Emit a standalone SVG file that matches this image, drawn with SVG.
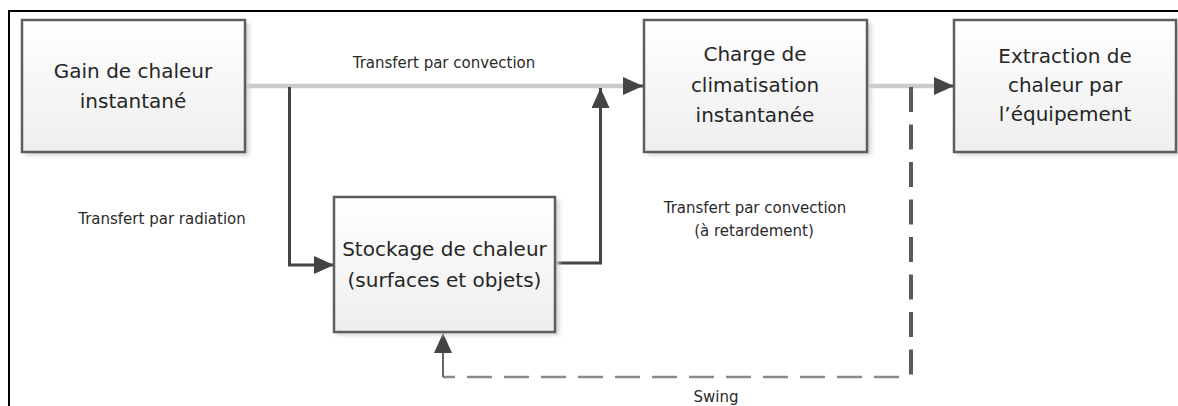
<svg xmlns="http://www.w3.org/2000/svg" width="1178" height="406" viewBox="0 0 1178 406">
  <defs>
    <linearGradient id="boxFill" x1="0" y1="0" x2="0" y2="1">
      <stop offset="0" stop-color="#ffffff"/>
      <stop offset="1" stop-color="#eeeeee"/>
    </linearGradient>
    <filter id="shadow" x="-10%" y="-10%" width="130%" height="130%">
      <feGaussianBlur stdDeviation="2"/>
    </filter>
    <marker id="arrow" viewBox="0 0 20 18" refX="20" refY="9" markerWidth="20" markerHeight="18" markerUnits="userSpaceOnUse" orient="auto">
      <path d="M0,0 L20,9 L0,18 Z" fill="#444444"/>
    </marker>
  </defs>
  <style>
    .box { fill: url(#boxFill); stroke: #5e5e5e; stroke-width: 2.5; }
    .shadow { fill: #d0d0d0; filter: url(#shadow); }
    .boxtext { font-family: "DejaVu Sans", sans-serif; font-size: 20px; fill: #262626; text-anchor: middle; }
    .label { font-family: "DejaVu Sans", sans-serif; font-size: 15px; fill: #2a2a2a; text-anchor: middle; }
    .light { fill: none; stroke: #cbcbcb; stroke-width: 4.5; }
    .dark { fill: none; stroke: #444444; stroke-width: 3; }
    .dashv { fill: none; stroke: #5a5a5a; stroke-width: 4; stroke-dasharray: 25 12.5; }
    .dashh { fill: none; stroke: #8a8a8a; stroke-width: 2.5; stroke-dasharray: 25 12; }
  </style>

  <rect width="1178" height="406" fill="#ffffff"/>
  <g id="frame">
    <path d="M9,406 L9,11 L1178,11" fill="none" stroke="#000000" stroke-width="2"/>
  </g>

  <g id="connectors">
    <path class="light" d="M245,86 L624,86"/>
    <path d="M624,86 L643,86" stroke="#444" stroke-width="3" marker-end="url(#arrow)"/>
    <path class="light" d="M867,86 L936,86"/>
    <path d="M936,86 L954,86" stroke="#444" stroke-width="3" marker-end="url(#arrow)"/>
    <path class="dark" d="M289.5,87 L289.5,265 L334,265" marker-end="url(#arrow)"/>
    <path class="dark" d="M555,263 L600.5,263 L600.5,88" marker-end="url(#arrow)"/>
    <path class="dashv" d="M911,87 L911,376"/>
    <path class="dashh" d="M899,377 L443,377"/>
    <path d="M443,377 L443,333" fill="none" stroke="#666" stroke-width="2" marker-end="url(#arrow)"/>
  </g>

  <g id="gain">
    <rect class="shadow" x="25" y="23" width="224" height="132"/>
    <rect class="box" x="22" y="20" width="223" height="132"/>
    <text class="boxtext" x="133" y="78">Gain de chaleur</text>
    <text class="boxtext" x="133" y="108">instantané</text>
  </g>

  <g id="charge">
    <rect class="shadow" x="647" y="23" width="224" height="132"/>
    <rect class="box" x="644" y="20" width="223" height="132"/>
    <text class="boxtext" x="755" y="61">Charge de</text>
    <text class="boxtext" x="755" y="92">climatisation</text>
    <text class="boxtext" x="755" y="122">instantanée</text>
  </g>

  <g id="extraction">
    <rect class="shadow" x="957" y="23" width="222" height="132"/>
    <rect class="box" x="954" y="20" width="222" height="132"/>
    <text class="boxtext" x="1065" y="63">Extraction de</text>
    <text class="boxtext" x="1065" y="92">chaleur par</text>
    <text class="boxtext" x="1065" y="121">l’équipement</text>
  </g>

  <g id="stockage">
    <rect class="shadow" x="337" y="200" width="222" height="135"/>
    <rect class="box" x="334" y="197" width="221" height="135"/>
    <text class="boxtext" x="444.5" y="256">Stockage de chaleur</text>
    <text class="boxtext" x="444.5" y="287">(surfaces et objets)</text>
  </g>

  <g id="labels">
    <text class="label" x="444" y="68">Transfert par convection</text>
    <text class="label" x="162" y="224">Transfert par radiation</text>
    <text class="label" x="755" y="213">Transfert par convection</text>
    <text class="label" x="754" y="236">(à retardement)</text>
    <text class="label" x="716" y="402">Swing</text>
  </g>
</svg>
